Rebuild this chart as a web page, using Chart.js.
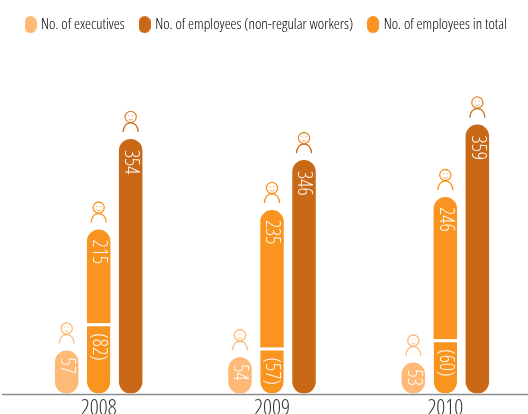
<!DOCTYPE html>
<html>
<head>
<meta charset="utf-8">
<title>Executives and employees</title>
<script src="https://cdn.jsdelivr.net/npm/chart.js@4"></script>
<style>
  html, body { margin: 0; padding: 0; background: #fff; overflow: hidden; }
  canvas { display: block; }
</style>
</head>
<body>
<canvas id="chart" width="532" height="416"></canvas>
<script>
var years = ['2008', '2009', '2010'];

// Printed figures.
var executiveLabels = ['57', '54', '53'];
var nonRegularLabels = ['354', '346', '359'];
var nonRegularInTotalLabels = ['(82)', '(57)', '(60)'];
var totalLabels = ['215', '235', '246'];

// Bar heights as drawn: the source graphic is not to scale with its figures.
var executives = [57, 48, 41];
var nonRegular = [337, 309, 356];
var totalLower = [93, 61, 72];
var totalUpper = [124, 182, 188];

var legendNames = ['No. of executives', 'No. of employees (non-regular workers)', 'No. of employees in total'];

var lightOrange = '#fdb975';
var orange = '#f99420';
var darkOrange = '#c96816';
var fontName = '"Open Sans", sans-serif';
// Chart.js only checks font.style, so the stretch keyword travels with the weight.
var thinNarrow = 'condensed 300';

function makePill(color) {
  var c = document.createElement('canvas');
  c.width = 12;
  c.height = 17;
  var g = c.getContext('2d');
  g.fillStyle = color;
  g.beginPath();
  g.roundRect(0, 0, 12, 17, 6);
  g.fill();
  return c;
}

function drawPerson(ctx, x, barTop, headColor, bodyColor) {
  var headY = barTop - 22;
  ctx.save();
  ctx.lineWidth = 1.3;
  ctx.strokeStyle = headColor;
  ctx.beginPath();
  ctx.arc(x, headY, 5.6, 0, Math.PI * 2);
  ctx.stroke();
  ctx.lineWidth = 0.8;
  ctx.beginPath();
  ctx.arc(x, headY + 0.5, 2.6, 0.2 * Math.PI, 0.8 * Math.PI);
  ctx.stroke();
  ctx.fillStyle = headColor;
  ctx.fillRect(x - 2.2, headY - 1.8, 1, 1);
  ctx.fillRect(x + 1.2, headY - 1.8, 1, 1);
  ctx.lineWidth = 1.3;
  ctx.strokeStyle = bodyColor;
  ctx.beginPath();
  ctx.moveTo(x - 7.6, barTop - 7);
  ctx.bezierCurveTo(x - 7, barTop - 13, x - 4, barTop - 16, x, barTop - 16);
  ctx.bezierCurveTo(x + 4, barTop - 16, x + 7, barTop - 13, x + 7.6, barTop - 7);
  ctx.stroke();
  ctx.restore();
}

function drawBarText(ctx, text, x, y) {
  ctx.save();
  ctx.translate(x, y);
  ctx.rotate(Math.PI / 2);
  ctx.font = thinNarrow + ' 20px ' + fontName;
  ctx.fillStyle = 'rgba(255,255,255,0.95)';
  ctx.textAlign = 'left';
  ctx.textBaseline = 'middle';
  ctx.fillText(text, 0, 0);
  ctx.restore();
}

// Person icons, rotated figures and the long base line.
var decorations = {
  id: 'decorations',
  afterDatasetsDraw: function (chart) {
    var ctx = chart.ctx;
    var base = chart.scales.y.getPixelForValue(0);

    ctx.save();
    ctx.strokeStyle = '#8c8c8c';
    ctx.lineWidth = 1.5;
    ctx.beginPath();
    ctx.moveTo(2, base + 1);
    ctx.lineTo(chart.width, base + 1);
    ctx.stroke();
    ctx.restore();

    years.forEach(function (year, i) {
      var exec = chart.getDatasetMeta(0).data[i];
      var lower = chart.getDatasetMeta(1).data[i];
      var upper = chart.getDatasetMeta(2).data[i];
      var reg = chart.getDatasetMeta(3).data[i];

      drawPerson(ctx, exec.x, exec.y, lightOrange, lightOrange);
      drawPerson(ctx, upper.x, upper.y, orange, orange);
      drawPerson(ctx, reg.x, reg.y, '#e08a34', darkOrange);

      drawBarText(ctx, executiveLabels[i], exec.x, exec.y + 7);
      drawBarText(ctx, nonRegularInTotalLabels[i], lower.x, lower.y + 10);
      drawBarText(ctx, totalLabels[i], upper.x, upper.y + 10);
      drawBarText(ctx, nonRegularLabels[i], reg.x, reg.y + 11);
    });
  }
};

var round = 12;

new Chart(document.getElementById('chart').getContext('2d'), {
  type: 'bar',
  data: {
    labels: years,
    datasets: [
      {
        label: legendNames[0],
        data: executives,
        stack: 'executives',
        backgroundColor: lightOrange,
        borderRadius: round,
        borderSkipped: false
      },
      {
        label: legendNames[2],
        data: totalLower,
        stack: 'total',
        backgroundColor: orange,
        borderColor: '#fff',
        borderWidth: { top: 3, left: 0, right: 0, bottom: 0 },
        borderRadius: { topLeft: 0, topRight: 0, bottomLeft: round, bottomRight: round },
        borderSkipped: false
      },
      {
        label: legendNames[2],
        data: totalUpper,
        stack: 'total',
        backgroundColor: orange,
        borderRadius: { topLeft: round, topRight: round, bottomLeft: 0, bottomRight: 0 },
        borderSkipped: false
      },
      {
        label: legendNames[1],
        data: nonRegular,
        stack: 'nonRegular',
        backgroundColor: darkOrange,
        borderRadius: round,
        borderSkipped: false
      }
    ]
  },
  options: {
    responsive: false,
    animation: false,
    categoryPercentage: 0.554,
    barPercentage: 0.734,
    layout: {
      padding: { left: 10.5, right: 0, bottom: 0 }
    },
    plugins: {
      tooltip: { enabled: false },
      legend: {
        position: 'top',
        align: 'start',
        onClick: null,
        labels: {
          usePointStyle: true,
          pointStyleWidth: 6,
          padding: 17,
          color: '#555',
          font: { family: fontName, size: 15.2, weight: thinNarrow },
          generateLabels: function () {
            return [
              { text: legendNames[0], pointStyle: makePill(lightOrange), datasetIndex: 0 },
              { text: legendNames[1], pointStyle: makePill(darkOrange), datasetIndex: 3 },
              { text: legendNames[2], pointStyle: makePill(orange), datasetIndex: 1 }
            ];
          }
        }
      }
    },
    scales: {
      x: {
        stacked: true,
        grid: { display: false },
        border: { display: false },
        ticks: {
          color: '#333',
          padding: -6,
          maxRotation: 0,
          font: { family: fontName, size: 22, weight: thinNarrow }
        }
      },
      y: {
        stacked: true,
        min: 0,
        max: 465,
        grid: { display: false },
        border: { display: false },
        ticks: { display: false },
        afterFit: function (scale) {
          scale.width = 1.5;
        }
      }
    }
  },
  plugins: [decorations]
});
</script>
</body>
</html>
